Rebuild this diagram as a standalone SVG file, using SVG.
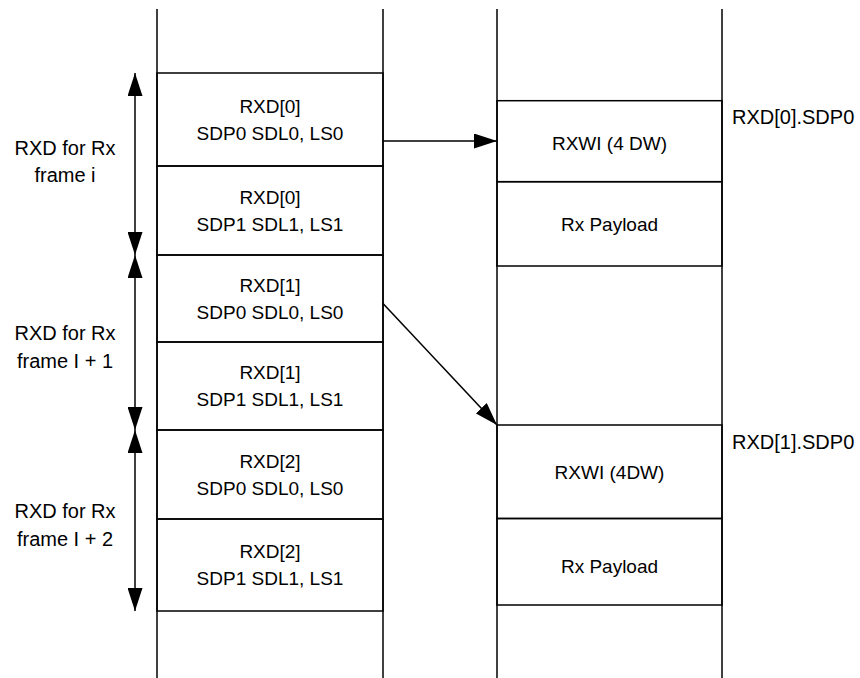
<svg xmlns="http://www.w3.org/2000/svg" width="860" height="678" viewBox="0 0 860 678">
  <style>
    .ln { stroke: #000; stroke-width: 1.5; fill: none; }
    .cell { stroke: #000; stroke-width: 1.5; fill: none; }
    .t { font-family: "Liberation Sans", Arial, sans-serif; font-size: 19px; fill: #000; text-anchor: middle; }
    .tl { font-family: "Liberation Sans", Arial, sans-serif; font-size: 20px; fill: #000; text-anchor: middle; }
    .ts { font-family: "Liberation Sans", Arial, sans-serif; font-size: 20px; fill: #000; text-anchor: start; }
    .conn { stroke: #000; stroke-width: 1.5; fill: none; marker-end: url(#ah); }
    .span { stroke: #000; stroke-width: 1.5; fill: none; marker-start: url(#ah); marker-end: url(#ah); }
  </style>
  <defs>
    <marker id="ah" viewBox="0 0 23 15" refX="23" refY="7.5" markerWidth="23" markerHeight="15" markerUnits="userSpaceOnUse" orient="auto-start-reverse">
      <path d="M0,0 L23,7.5 L0,15 z" fill="#000"/>
    </marker>
  </defs>
  <rect width="860" height="678" fill="#fff"/>

  <g id="columns">
    <line class="ln" x1="157" y1="9" x2="157" y2="678"/>
    <line class="ln" x1="383" y1="9" x2="383" y2="678"/>
    <line class="ln" x1="497" y1="9" x2="497" y2="678"/>
    <line class="ln" x1="722" y1="9" x2="722" y2="678"/>
  </g>

  <g id="rxd0-a">
    <rect class="cell" x="157" y="73" width="226" height="93"/>
    <text class="t" x="270" y="112.5">RXD[0]</text>
    <text class="t" x="270" y="139.5">SDP0 SDL0, LS0</text>
  </g>
  <g id="rxd0-b">
    <rect class="cell" x="157" y="166" width="226" height="89"/>
    <text class="t" x="270" y="203.5">RXD[0]</text>
    <text class="t" x="270" y="230.5">SDP1 SDL1, LS1</text>
  </g>
  <g id="rxd1-a">
    <rect class="cell" x="157" y="255" width="226" height="87"/>
    <text class="t" x="270" y="291.5">RXD[1]</text>
    <text class="t" x="270" y="318.5">SDP0 SDL0, LS0</text>
  </g>
  <g id="rxd1-b">
    <rect class="cell" x="157" y="342" width="226" height="88"/>
    <text class="t" x="270" y="379">RXD[1]</text>
    <text class="t" x="270" y="406">SDP1 SDL1, LS1</text>
  </g>
  <g id="rxd2-a">
    <rect class="cell" x="157" y="430" width="226" height="89"/>
    <text class="t" x="270" y="467.5">RXD[2]</text>
    <text class="t" x="270" y="494.5">SDP0 SDL0, LS0</text>
  </g>
  <g id="rxd2-b">
    <rect class="cell" x="157" y="519" width="226" height="92"/>
    <text class="t" x="270" y="558">RXD[2]</text>
    <text class="t" x="270" y="585">SDP1 SDL1, LS1</text>
  </g>

  <g id="rxwi0">
    <rect class="cell" x="497" y="100.7" width="225" height="81"/>
    <text class="t" x="609.5" y="149.5">RXWI (4 DW)</text>
  </g>
  <g id="payload0">
    <rect class="cell" x="497" y="181.7" width="225" height="84.3"/>
    <text class="t" x="609.5" y="231">Rx Payload</text>
  </g>
  <g id="rxwi1">
    <rect class="cell" x="497" y="425" width="225" height="93.5"/>
    <text class="t" x="609.5" y="479">RXWI (4DW)</text>
  </g>
  <g id="payload1">
    <rect class="cell" x="497" y="518.5" width="225" height="86.5"/>
    <text class="t" x="609.5" y="573">Rx Payload</text>
  </g>

  <g id="label-frame-i">
    <text class="tl" x="65" y="155">RXD for Rx</text>
    <text class="tl" x="65" y="182">frame i</text>
  </g>
  <g id="label-frame-i1">
    <text class="tl" x="65" y="340">RXD for Rx</text>
    <text class="tl" x="65" y="368">frame I + 1</text>
  </g>
  <g id="label-frame-i2">
    <text class="tl" x="65" y="518">RXD for Rx</text>
    <text class="tl" x="65" y="546">frame I + 2</text>
  </g>
  <g id="label-sdp0-0">
    <text class="ts" x="732" y="124">RXD[0].SDP0</text>
  </g>
  <g id="label-sdp0-1">
    <text class="ts" x="732" y="449">RXD[1].SDP0</text>
  </g>

  <g id="connectors">
    <line class="span" x1="135" y1="73" x2="135" y2="255"/>
    <line class="span" x1="135" y1="255" x2="135" y2="430"/>
    <line class="span" x1="135" y1="430" x2="135" y2="611"/>
    <line class="conn" x1="383" y1="141" x2="497" y2="141"/>
    <line class="conn" x1="383" y1="303.5" x2="497" y2="425"/>
  </g>
</svg>
